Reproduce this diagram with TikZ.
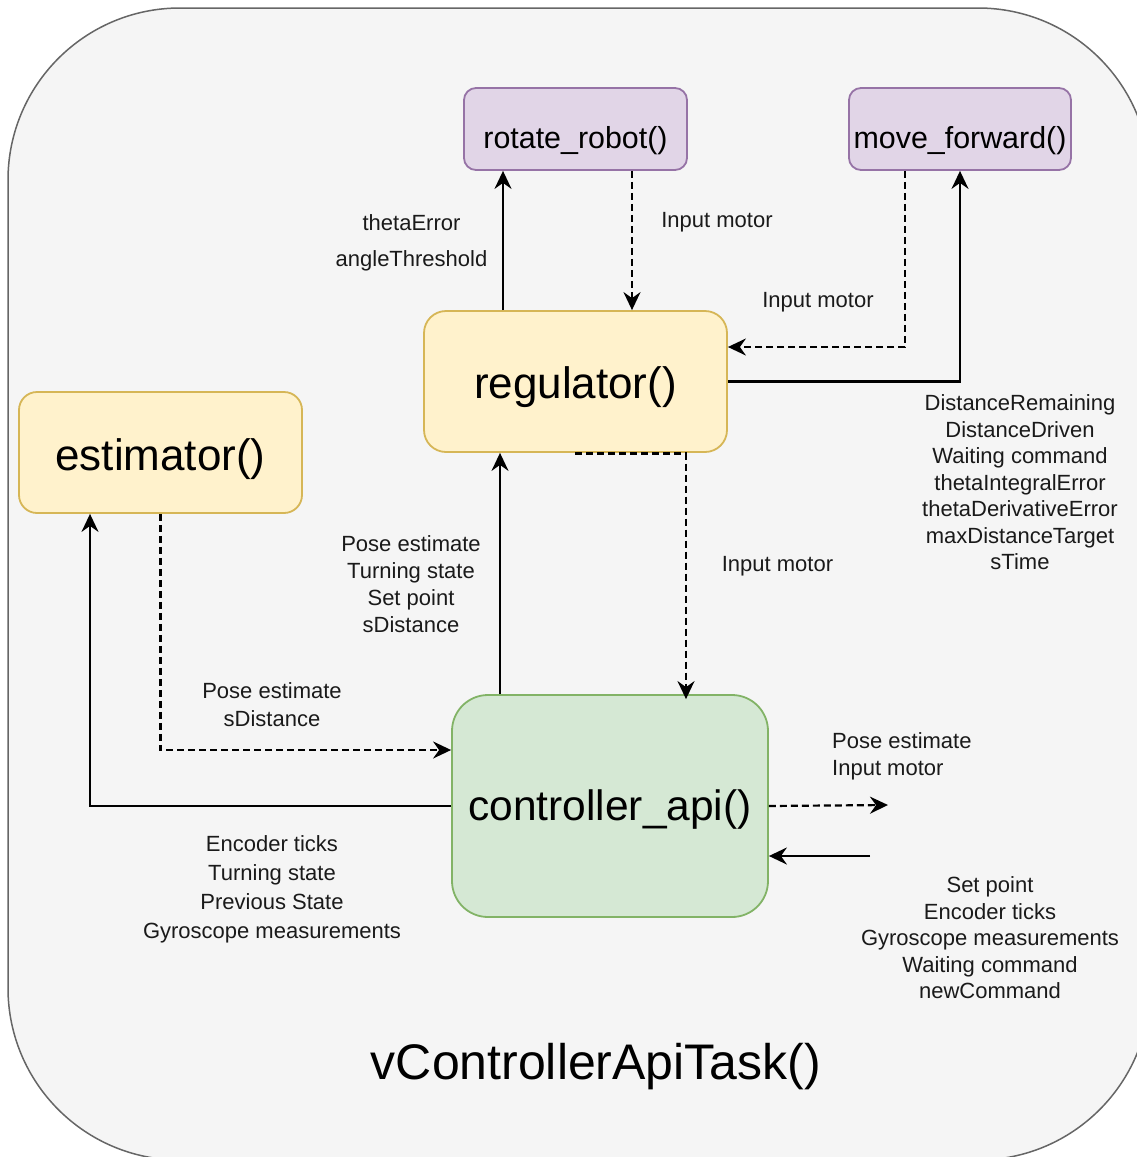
\documentclass[tikz,border=0pt]{standalone}
\usepackage{fontspec}
\setmainfont{Liberation Sans}
\usetikzlibrary{arrows.meta,calc}

\definecolor{framefill}{HTML}{F5F5F5}
\definecolor{framedraw}{HTML}{666666}
\definecolor{purplefill}{HTML}{E1D5E7}
\definecolor{purpledraw}{HTML}{9673A6}
\definecolor{yellowfill}{HTML}{FFF2CC}
\definecolor{yellowdraw}{HTML}{D6B656}
\definecolor{greenfill}{HTML}{D5E8D4}
\definecolor{greendraw}{HTML}{82B366}
\definecolor{labeltext}{HTML}{1A1A1A}

\tikzset{
  fnbox/.style={draw, line width=1.8pt, inner sep=0pt, text=black},
  % a fixed text box sets the caption a little below the middle of its box
  textbox/.style={text depth=0pt, text height=#1},
  smallfn/.style={fnbox, fill=purplefill, draw=purpledraw,
    minimum width=223pt, minimum height=82pt, rounded corners=12pt,
    font=\fontsize{30.4}{36}\selectfont, textbox=39.7pt},
  bigfn/.style={fnbox, fill=yellowfill, draw=yellowdraw,
    rounded corners=22pt, font=\fontsize{44}{50}\selectfont},
  apifn/.style={fnbox, fill=greenfill, draw=greendraw,
    rounded corners=36pt, font=\fontsize{42.5}{50}\selectfont, textbox=29.9pt},
  lbl/.style={inner sep=0pt, align=center, text=labeltext,
    font=\fontsize{22}{27}\selectfont},
  tip/.style={-{Stealth[length=18pt,width=17pt,inset=6pt]}},
  solidconn/.style={tip, line width=2.2pt},
  dashconn/.style={tip, line width=2.2pt, dash pattern=on 7pt off 4pt},
}

\begin{document}
\begin{tikzpicture}[x=1pt,y=-1pt]
\useasboundingbox (0,0) rectangle (1137,1157);
\clip (0,0) rectangle (1137,1157);

% task container
\draw[fill=framefill, draw=framedraw, line width=1.5pt, rounded corners=172pt]
  (8,8) rectangle (1150,1160);
\node[inner sep=0pt, font=\fontsize{50}{56}\selectfont, textbox=35.8pt] (task) at (596,1062) {vControllerApiTask()};

% functions
\node[smallfn] (rot) at (575.5,129) {rotate\_robot()};
\node[smallfn, minimum width=222pt] (mf) at (960,129) {move\_forward()};
\node[bigfn, minimum width=303pt, minimum height=141pt, textbox=34.7pt] (reg) at (575.5,381.5) {regulator()};
\node[bigfn, minimum width=283pt, minimum height=121pt, rounded corners=18pt, textbox=36.7pt] (est) at (160.5,452.5) {estimator()};
\node[apifn, minimum width=316pt, minimum height=222pt] (ctl) at (610,806) {controller\_api()};

% vertical and horizontal lanes used by the connectors
\coordinate (xa) at (503,0);
\coordinate (xb) at (632,0);
\coordinate (xc) at (905,0);
\coordinate (xd) at (500,0);
\coordinate (xe) at (686,0);
\coordinate (xf) at (90,0);
\coordinate (ya) at (0,347);
\coordinate (yb) at (0,750);
\coordinate (r0) at (575,453.5);
\coordinate (outp) at (888,805);
\coordinate (inp) at (870,856);

% regulator <-> rotate_robot
\draw[solidconn] (reg.north -| xa) -- (rot.south -| xa);
\draw[dashconn] (rot.south -| xb) -- (reg.north -| xb);

% regulator <-> move_forward
\draw[dashconn] (mf.south -| xc) -- (ya -| xc) -- (ya -| reg.east);
\draw[solidconn] (reg.east) -- (reg.east -| mf.south) -- (mf.south);

% controller_api <-> regulator
\draw[solidconn] (ctl.north -| xd) -- (reg.south -| xd);
\draw[dashconn] (r0) -- (r0 -| xe) -- ([yshift=-5pt]ctl.north -| xe);

% estimator <-> controller_api
\draw[dashconn] (est.south) -- (yb -| est.south) -- (yb -| ctl.west);
\draw[solidconn] (ctl.west) -- (ctl.west -| xf) -- (est.south -| xf);

% controller_api outputs and inputs
\draw[dashconn] (ctl.east) -- (outp);
\draw[solidconn] (inp) -- (inp -| ctl.east);

% labels
\node[lbl, font=\fontsize{22}{36}\selectfont] (l1) at (411.5,243) {thetaError\\angleThreshold};
\node[lbl] (l2) at (717,222) {Input motor};
\node[lbl] (l3) at (818,302.5) {Input motor};
\node[lbl, font=\fontsize{22}{26.5}\selectfont] (l4) at (1020,482.5)
  {DistanceRemaining\\DistanceDriven\\Waiting command\\thetaIntegralError\\thetaDerivativeError\\maxDistanceTarget\\sTime};
\node[lbl] (l5) at (411,584.5) {Pose estimate\\Turning state\\Set point\\sDistance};
\node[lbl] (l6) at (777.5,566) {Input motor};
\node[lbl, font=\fontsize{22}{28}\selectfont] (l7) at (272,705) {Pose estimate\\sDistance};
\node[lbl, font=\fontsize{22}{29}\selectfont] (l8) at (272,889)
  {Encoder ticks\\Turning state\\Previous State\\Gyroscope measurements};
\node[lbl, align=left, anchor=west] (l9) at (832,756) {Pose estimate\\Input motor};
\node[lbl, font=\fontsize{22}{26.5}\selectfont] (l10) at (990,938)
  {Set point\\Encoder ticks\\Gyroscope measurements\\Waiting command\\newCommand};
\end{tikzpicture}
\end{document}
